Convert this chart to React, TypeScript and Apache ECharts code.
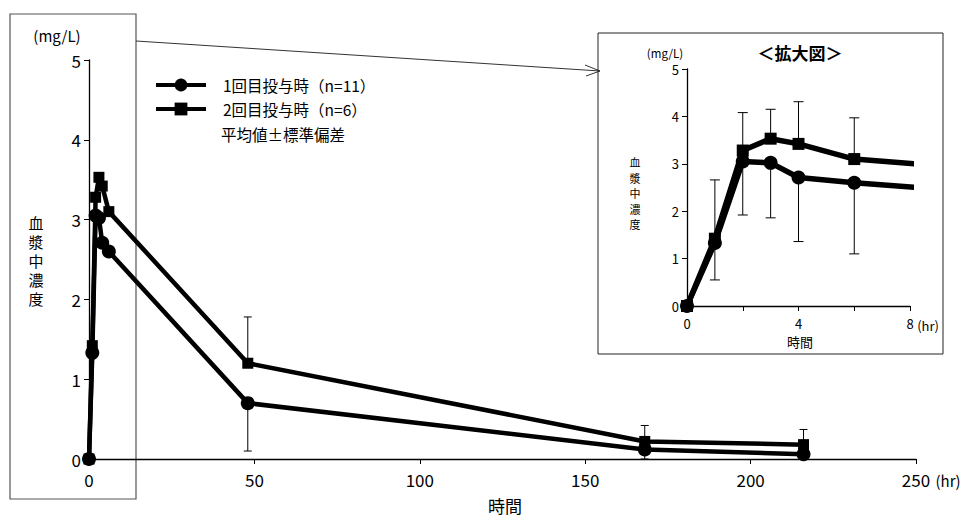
import React, { useEffect, useRef } from "react";
import * as echarts from "echarts";

const FONT = "'Noto Sans CJK JP', 'Noto Sans', sans-serif";

// hours after dosing
const times = [0, 1, 2, 3, 4, 6, 48, 168, 216];
// 1st dose (n=11), mean and SD (mg/L)
const dose1Mean = [0, 1.33, 3.05, 3.02, 2.71, 2.6, 0.7, 0.12, 0.06];
const dose1SD = [0, 0.78, 1.13, 1.16, 1.35, 1.5, 0.6, 0.12, 0.05];
// 2nd dose (n=6)
const dose2Mean = [0, 1.42, 3.28, 3.53, 3.42, 3.1, 1.2, 0.22, 0.18];
const dose2SD = [0, 1.24, 0.8, 0.62, 0.89, 0.87, 0.58, 0.2, 0.19];

const mainXTicks = { min: 0, max: 250, interval: 50 };
const insetXTicks = { min: 0, max: 8, interval: 2 };
const yTicks = { min: 0, max: 5, interval: 1 };

const name1 = "1回目投与時（n=11）";
const name2 = "2回目投与時（n=6）";

function errBar(capAtTop: boolean, capHalf: number) {
  return (params: any, api: any) => {
    const x = api.value(0);
    const lo = api.value(1);
    const hi = api.value(2);
    const p1 = api.coord([x, lo]);
    const p2 = api.coord([x, hi]);
    const capY = capAtTop ? p2[1] : p1[1];
    return {
      type: "group",
      children: [
        {
          type: "line",
          shape: { x1: p1[0], y1: p1[1], x2: p2[0], y2: p2[1] },
          style: { stroke: "#000", lineWidth: 1 },
        },
        {
          type: "line",
          shape: { x1: p1[0] - capHalf, y1: capY, x2: p1[0] + capHalf, y2: capY },
          style: { stroke: "#000", lineWidth: 1 },
        },
      ],
    };
  };
}

function htext(x: number, y: number, text: string, size: number, align = "center", weight = "normal") {
  return {
    type: "text",
    x,
    y,
    style: {
      text,
      fontSize: size,
      fontFamily: FONT,
      fontWeight: weight,
      fill: "#000",
      align,
      verticalAlign: "middle",
      textAlign: align,
      textVerticalAlign: "middle",
    },
  };
}

function vtext(x: number, yCenter: number, text: string, size: number, step: number) {
  const chars = text.split("");
  const y0 = yCenter - ((chars.length - 1) * step) / 2;
  return chars.map((c, i) => htext(x, y0 + i * step, c, size));
}

export default function App() {
  const ref = useRef<HTMLDivElement>(null);

  useEffect(() => {
    if (!ref.current) return;
    const chart = echarts.init(ref.current, undefined, { renderer: "svg" });

    const s1 = times.map((t, i) => [t, dose1Mean[i]]);
    const s2 = times.map((t, i) => [t, dose2Mean[i]]);
    const lowBars = times.map((t, i) => [t, dose1Mean[i] - dose1SD[i], dose1Mean[i]]).filter((d, i) => dose1SD[i] > 0);
    const upBars = times.map((t, i) => [t, dose2Mean[i], dose2Mean[i] + dose2SD[i]]).filter((d, i) => dose2SD[i] > 0);
    // the main panel shows error bars only beyond the magnified range
    const mainLow = lowBars.filter((d) => d[0] > insetXTicks.max);
    const mainUp = upBars.filter((d) => d[0] > insetXTicks.max);
    const inLow = lowBars.filter((d) => d[0] <= insetXTicks.max);
    const inUp = upBars.filter((d) => d[0] <= insetXTicks.max);

    const axisCommon = (fontSize: number, margin: number) => ({
      type: "value",
      axisLine: { show: true, onZero: false, lineStyle: { color: "#000", width: 1.3 } },
      axisTick: { show: true, length: 5, lineStyle: { color: "#000", width: 1 } },
      axisLabel: { fontSize, color: "#000", margin, fontFamily: FONT },
      splitLine: { show: false },
    });

    const option: any = {
      animation: false,
      backgroundColor: "#fff",
      textStyle: { fontFamily: FONT, color: "#000" },
      grid: [
        { left: 89, top: 60, width: 827, height: 399 },
        { left: 687, top: 69, width: 223, height: 237 },
      ],
      xAxis: [
        { ...axisCommon(17, 12), gridIndex: 0, ...mainXTicks },
        {
          ...axisCommon(13, 11),
          gridIndex: 1,
          ...insetXTicks,
          axisLabel: {
            fontSize: 13,
            color: "#000",
            margin: 11,
            fontFamily: FONT,
            formatter: (v: number) => (v % 4 === 0 ? String(v) : ""),
          },
        },
      ],
      yAxis: [
        { ...axisCommon(17, 8), gridIndex: 0, ...yTicks },
        { ...axisCommon(13, 8), gridIndex: 1, ...yTicks },
      ],
      legend: {
        data: [name1, name2],
        orient: "vertical",
        left: 154,
        top: 77,
        padding: 0,
        itemWidth: 50,
        itemHeight: 16,
        itemGap: 8,
        lineStyle: { width: 4 },
        textStyle: { fontSize: 15.5, color: "#000", fontFamily: FONT, padding: [0, 0, 0, 12], lineHeight: 16 },
      },
      series: [
        {
          type: "custom",
          xAxisIndex: 0,
          yAxisIndex: 0,
          data: mainUp,
          encode: { x: 0, y: [1, 2] },
          renderItem: errBar(true, 4),
          z: 1,
        },
        {
          type: "custom",
          xAxisIndex: 0,
          yAxisIndex: 0,
          data: mainLow,
          encode: { x: 0, y: [1, 2] },
          renderItem: errBar(false, 4),
          z: 1,
        },
        {
          name: name2,
          type: "line",
          xAxisIndex: 0,
          yAxisIndex: 0,
          data: s2,
          symbol: "rect",
          symbolSize: 11,
          lineStyle: { color: "#000", width: 4.5 },
          itemStyle: { color: "#000" },
          z: 2,
        },
        {
          name: name1,
          type: "line",
          xAxisIndex: 0,
          yAxisIndex: 0,
          data: s1,
          symbol: "circle",
          symbolSize: 14,
          lineStyle: { color: "#000", width: 4.5 },
          itemStyle: { color: "#000" },
          z: 3,
        },
        {
          type: "custom",
          xAxisIndex: 1,
          yAxisIndex: 1,
          data: inUp,
          encode: { x: 0, y: [1, 2] },
          renderItem: errBar(true, 5),
          z: 1,
        },
        {
          type: "custom",
          xAxisIndex: 1,
          yAxisIndex: 1,
          data: inLow,
          encode: { x: 0, y: [1, 2] },
          renderItem: errBar(false, 5),
          z: 1,
        },
        {
          name: name2,
          type: "line",
          xAxisIndex: 1,
          yAxisIndex: 1,
          data: s2,
          clip: true,
          symbol: "rect",
          symbolSize: 12,
          lineStyle: { color: "#000", width: 5.5 },
          itemStyle: { color: "#000" },
          z: 2,
        },
        {
          name: name1,
          type: "line",
          xAxisIndex: 1,
          yAxisIndex: 1,
          data: s1,
          clip: true,
          symbol: "circle",
          symbolSize: 14,
          lineStyle: { color: "#000", width: 5.5 },
          itemStyle: { color: "#000" },
          z: 3,
        },
      ],
      graphic: [
        {
          type: "rect",
          shape: { x: 10, y: 14, width: 126, height: 485 },
          style: { fill: "none", stroke: "#555", lineWidth: 1.2 },
        },
        {
          type: "line",
          shape: { x1: 136, y1: 41, x2: 600, y2: 71 },
          style: { stroke: "#333", lineWidth: 1 },
        },
        {
          type: "polyline",
          shape: { points: [[586, 76], [600, 71], [585, 65]] },
          style: { stroke: "#333", lineWidth: 1, fill: "none" },
        },
        {
          type: "rect",
          shape: { x: 598, y: 33, width: 345, height: 321 },
          style: { fill: "none", stroke: "#222", lineWidth: 1 },
        },
        htext(57, 35, "(mg/L)", 15),
        ...vtext(36, 260, "血漿中濃度", 15, 19),
        htext(948, 480, "(hr)", 15),
        htext(505, 505, "時間", 17),
        htext(221, 134, "平均値±標準偏差", 15.5, "left"),
        htext(800, 52, "＜拡大図＞", 17, "center", "bold"),
        htext(665, 53, "(mg/L)", 11.5),
        ...vtext(635, 193, "血漿中濃度", 11, 15.5),
        htext(928, 325, "(hr)", 13),
        htext(800, 341, "時間", 13),
      ],
    };

    chart.setOption(option);
    return () => chart.dispose();
  }, []);

  return (
    <div
      ref={ref}
      style={{ position: "fixed", left: 0, top: 0, width: 964, height: 518, background: "#fff" }}
    />
  );
}
